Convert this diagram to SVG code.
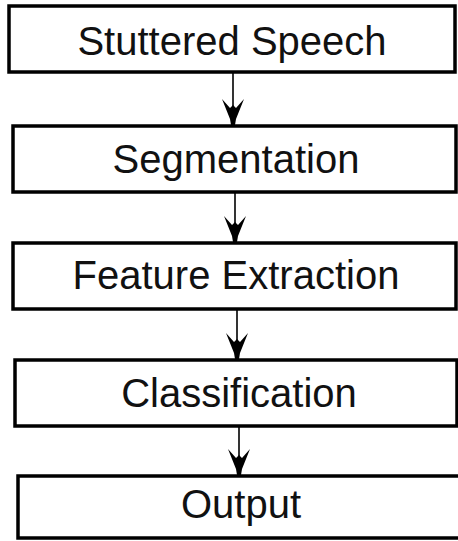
<svg xmlns="http://www.w3.org/2000/svg" width="458" height="541" viewBox="0 0 458 541">
<style>
.box{fill:#fff;stroke:#000;stroke-width:3.5}
.lbl{font-family:"Liberation Sans",Arial,sans-serif;font-size:40px;fill:#111;text-anchor:middle}
.edge{stroke:#000;stroke-width:1.6;fill:none}
.head{fill:#000}
</style>
<defs>
<path id="ah" d="M-2,0 L2,0 L3,-6 L11,-26 L3,-17 L0,-20 L-3,-17 L-11,-26 L-3,-6 Z"/>
</defs>
<rect width="458" height="541" fill="#fff"/>
<g id="connectors">
<line class="edge" x1="233" y1="72" x2="233" y2="108"/>
<use href="#ah" class="head" x="233" y="125"/>
<line class="edge" x1="235" y1="192" x2="235" y2="225"/>
<use href="#ah" class="head" x="235" y="242"/>
<line class="edge" x1="237" y1="309" x2="237" y2="342"/>
<use href="#ah" class="head" x="237" y="359"/>
<line class="edge" x1="239" y1="426" x2="239" y2="458"/>
<use href="#ah" class="head" x="239" y="475"/>
</g>
<g id="n1"><rect class="box" x="9" y="6" width="446" height="66"/><text class="lbl" x="232" y="55">Stuttered Speech</text></g>
<g id="n2"><rect class="box" x="13" y="126" width="443" height="66"/><text class="lbl" x="236" y="173">Segmentation</text></g>
<g id="n3"><rect class="box" x="13" y="243" width="443" height="66"/><text class="lbl" x="236" y="289">Feature Extraction</text></g>
<g id="n4"><rect class="box" x="15" y="360" width="442" height="66"/><text class="lbl" x="239" y="407">Classification</text></g>
<g id="n5"><rect class="box" x="18" y="476" width="442" height="62"/><text class="lbl" x="241" y="518">Output</text></g>
</svg>
